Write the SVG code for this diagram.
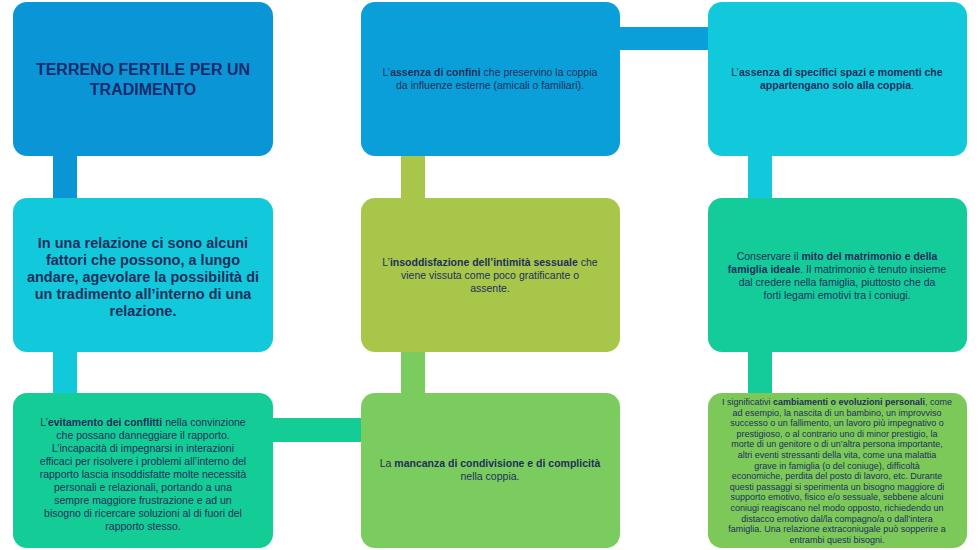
<svg xmlns="http://www.w3.org/2000/svg" width="980" height="550" viewBox="0 0 980 550">
<style>
text{font-family:"Liberation Sans",Arial,sans-serif;fill:#1f2f5c;text-anchor:middle}
.s{font-size:10.5px}
.xs{font-size:9px}
.b{font-weight:bold}
.t{font-size:16px;font-weight:bold;fill:#1a2a6c}
.m{font-size:14.5px;font-weight:bold}
</style>
<rect width="980" height="550" fill="#fff"/>
<g id="connectors">
<rect x="53" y="154" width="24" height="46" fill="#0a96d6"/>
<rect x="53" y="350" width="24" height="45" fill="#12c9dc"/>
<rect x="271" y="418" width="92" height="24" fill="#14cc95"/>
<rect x="401" y="350" width="24" height="45" fill="#7bcc5e"/>
<rect x="401" y="154" width="24" height="46" fill="#a7c64a"/>
<rect x="618" y="27" width="92" height="23" fill="#0a9fd8"/>
<rect x="748" y="154" width="24" height="46" fill="#12c9dc"/>
<rect x="748" y="350" width="24" height="45" fill="#13cc9a"/>
</g>
<g id="n1"><rect x="13" y="2" width="260" height="154" rx="14" fill="#0a96d6"/>
<text class="t" x="143" y="75">TERRENO FERTILE PER UN</text><text class="t" x="143" y="95">TRADIMENTO</text></g>
<g id="n2"><rect x="13" y="198" width="260" height="154" rx="14" fill="#12c9dc"/>
<text class="m"><tspan x="143" y="248">In una relazione ci sono alcuni</tspan><tspan x="143" y="265">fattori che possono, a lungo</tspan><tspan x="143" y="282">andare, agevolare la possibilità di</tspan><tspan x="143" y="299">un tradimento all’interno di una</tspan><tspan x="143" y="316">relazione.</tspan></text></g>
<g id="n3"><rect x="13" y="393" width="260" height="155" rx="14" fill="#14cc95"/>
<text class="s"><tspan x="143" y="426">L’<tspan class="b">evitamento dei conflitti</tspan> nella convinzione</tspan><tspan x="143" y="439">che possano danneggiare il rapporto.</tspan><tspan x="143" y="452">L’incapacità di impegnarsi in interazioni</tspan><tspan x="143" y="465">efficaci per risolvere i problemi all’interno del</tspan><tspan x="143" y="478">rapporto lascia insoddisfatte molte necessità</tspan><tspan x="143" y="491">personali e relazionali, portando a una</tspan><tspan x="143" y="504">sempre maggiore frustrazione e ad un</tspan><tspan x="143" y="517">bisogno di ricercare soluzioni al di fuori del</tspan><tspan x="143" y="530">rapporto stesso.</tspan></text></g>
<g id="n4"><rect x="361" y="393" width="259" height="155" rx="14" fill="#7bcc5e"/>
<text class="s"><tspan x="490" y="467">La <tspan class="b">mancanza di condivisione e di complicità</tspan></tspan><tspan x="490" y="480">nella coppia.</tspan></text></g>
<g id="n5"><rect x="361" y="198" width="259" height="154" rx="14" fill="#a7c64a"/>
<text class="s"><tspan x="490" y="266">L’<tspan class="b">insoddisfazione dell’intimità sessuale</tspan> che</tspan><tspan x="490" y="279">viene vissuta come poco gratificante o</tspan><tspan x="490" y="292">assente.</tspan></text></g>
<g id="n6"><rect x="361" y="2" width="259" height="154" rx="14" fill="#0a9fd8"/>
<text class="s"><tspan x="490" y="76">L’<tspan class="b">assenza di confini</tspan> che preservino la coppia</tspan><tspan x="490" y="89">da influenze esterne (amicali o familiari).</tspan></text></g>
<g id="n7"><rect x="708" y="2" width="259" height="154" rx="14" fill="#12c9dc"/>
<text class="s"><tspan x="837" y="76">L’<tspan class="b">assenza di specifici spazi e momenti che</tspan></tspan><tspan x="837" y="89" class="b">appartengano solo alla coppia<tspan font-weight="normal">.</tspan></tspan></text></g>
<g id="n8"><rect x="708" y="198" width="259" height="154" rx="14" fill="#13cc9a"/>
<text class="s"><tspan x="837" y="260">Conservare il <tspan class="b">mito del matrimonio e della</tspan></tspan><tspan x="837" y="273"><tspan class="b">famiglia ideale</tspan>. Il matrimonio è tenuto insieme</tspan><tspan x="837" y="286">dal credere nella famiglia, piuttosto che da</tspan><tspan x="837" y="299">forti legami emotivi tra i coniugi.</tspan></text></g>
<g id="n9"><rect x="708" y="393" width="259" height="155" rx="14" fill="#7cc95a"/>
<text class="xs"><tspan x="837" y="405">I significativi <tspan class="b">cambiamenti o evoluzioni personali</tspan>, come</tspan><tspan x="837" y="415.6">ad esempio, la nascita di un bambino, un improvviso</tspan><tspan x="837" y="426.2">successo o un fallimento, un lavoro più impegnativo o</tspan><tspan x="837" y="436.8">prestigioso, o al contrario uno di minor prestigio, la</tspan><tspan x="837" y="447.4">morte di un genitore o di un’altra persona importante,</tspan><tspan x="837" y="458">altri eventi stressanti della vita, come una malattia</tspan><tspan x="837" y="468.6">grave in famiglia (o del coniuge), difficoltà</tspan><tspan x="837" y="479.2">economiche, perdita del posto di lavoro, etc. Durante</tspan><tspan x="837" y="489.8">questi passaggi si sperimenta un bisogno maggiore di</tspan><tspan x="837" y="500.4">supporto emotivo, fisico e/o sessuale, sebbene alcuni</tspan><tspan x="837" y="511">coniugi reagiscano nel modo opposto, richiedendo un</tspan><tspan x="837" y="521.6">distacco emotivo dal/la compagno/a o dall’intera</tspan><tspan x="837" y="532.2">famiglia. Una relazione extraconiugale può sopperire a</tspan><tspan x="837" y="542.8">entrambi questi bisogni.</tspan></text></g>
</svg>
